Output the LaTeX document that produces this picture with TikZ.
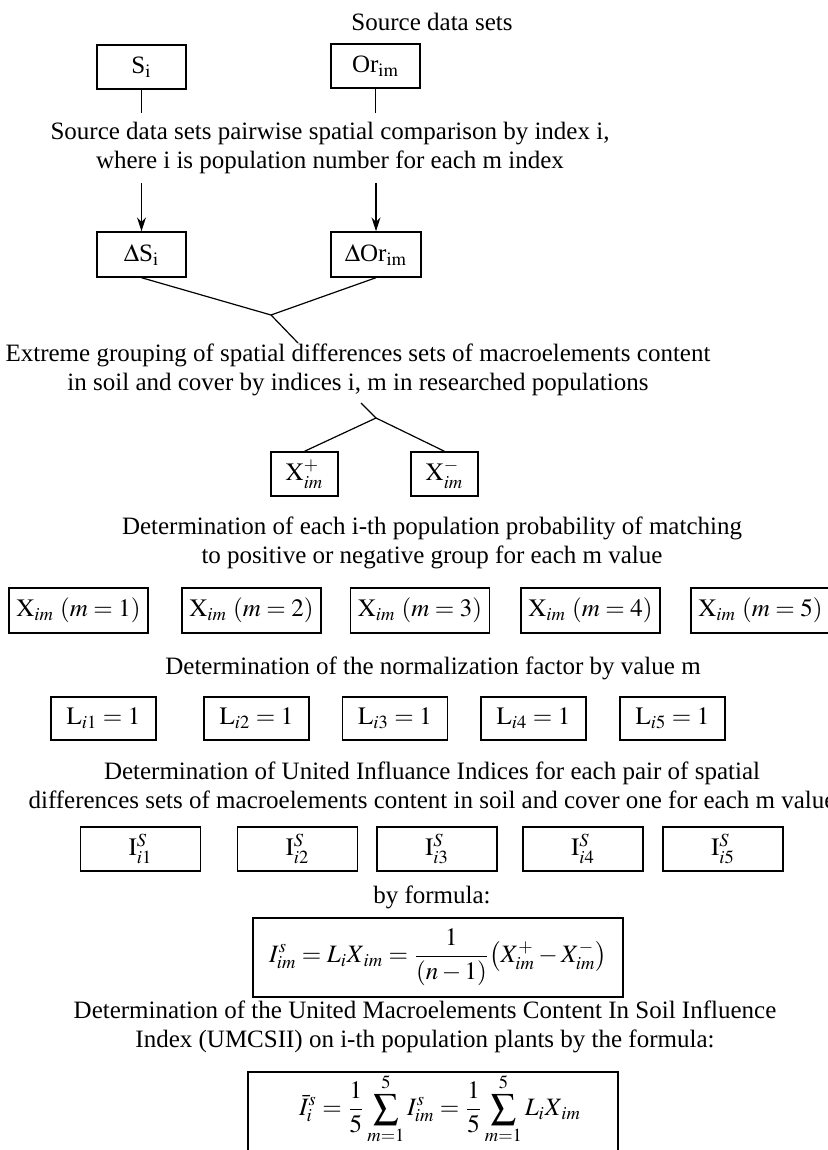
\documentclass[tikz,border=0pt]{standalone}
\usepackage{amsmath,amssymb}
\usepackage{mathptmx}
\usepackage{fontspec}
\setmainfont{Liberation Serif}
\usepackage{tikz}
\usetikzlibrary{arrows.meta}

\tikzset{
  box/.style={draw=black, line width=0.7pt, inner sep=0pt, align=center},
  txt/.style={inner sep=0pt, align=center},
  link/.style={black, line width=0.6pt},
  down/.style={link, -{Stealth[length=7pt,width=4.5pt]}},
}

\begin{document}
\begin{tikzpicture}[x=0.5pt,y=-0.5pt,font=\fontsize{12.5}{14.5}\selectfont]
    \useasboundingbox (0,0) rectangle (828,1150);

    % source sets
    \node[txt] (src) at (432,22) {Source data sets};
    \node[box, minimum width=44.5pt, minimum height=22pt] (S) at (141.5,67) {S$_\mathrm{i}$};
    \node[box, minimum width=44.5pt, minimum height=22pt] (Or) at (375.5,66) {Or$_\mathrm{im}$};
    \coordinate (sEnd) at (141.5,113);
    \coordinate (oEnd) at (375.5,113);
    \draw [link] (S.south) -- (sEnd);
    \draw [link] (Or.south) -- (oEnd);

    % comparison
    \node[txt] (cmp) at (330,147.5) {Source data sets pairwise spatial comparison by index i,\\
      where i is population number for each m index};
    \coordinate (sTop) at (141.5,183);
    \coordinate (oTop) at (376,183);
    \node[box, minimum width=44.5pt, minimum height=22.5pt] (dS) at (141.5,254.5) {$\Delta$S$_\mathrm{i}$};
    \node[box, minimum width=45pt, minimum height=22.5pt] (dOr) at (376,254.5) {$\Delta$Or$_\mathrm{im}$};
    \draw [down] (sTop) -- (dS.north);
    \draw [down] (oTop) -- (dOr.north);

    % join
    \coordinate (j1) at (271,315);
    \coordinate (j1e) at (298,343);
    \draw [link] (dS.south) -- (j1) -- (dOr.south);
    \draw [link] (j1) -- (j1e);

    % extreme grouping
    \node[txt] (grp) at (358,370) {Extreme grouping of spatial differences sets of macroelements content\\
      in soil and cover by indices i, m in researched populations};
    \coordinate (j2s) at (361,403);
    \coordinate (j2) at (376,418);
    \node[box, minimum width=33.5pt, minimum height=22pt] (Xp) at (304.5,474) {$\mathrm{X}^{+}_{im}$};
    \node[box, minimum width=33.5pt, minimum height=22pt] (Xm) at (444.5,474) {$\mathrm{X}^{-}_{im}$};
    \draw [link] (j2s) -- (j2);
    \draw [link] (Xp.north) -- (j2) -- (Xm.north);

    % probability
    \node[txt] (prob) at (432,543) {Determination of each i-th population probability of matching\\
      to positive or negative group for each m value};
    \node[box, minimum width=69.5pt, minimum height=22.5pt] (X1) at (78.5,610.5) {$\mathrm{X}_{im}\ (m = 1)$};
    \node[box, minimum width=69.5pt, minimum height=22.5pt] (X2) at (251.5,610.5) {$\mathrm{X}_{im}\ (m = 2)$};
    \node[box, minimum width=69.5pt, minimum height=22.5pt] (X3) at (420,610.5) {$\mathrm{X}_{im}\ (m = 3)$};
    \node[box, minimum width=69.5pt, minimum height=22.5pt] (X4) at (590.5,610.5) {$\mathrm{X}_{im}\ (m = 4)$};
    \node[box, minimum width=69.5pt, minimum height=22.5pt] (X5) at (760.5,610.5) {$\mathrm{X}_{im}\ (m = 5)$};

    % normalization
    \node[txt] (norm) at (433,668) {Determination of the normalization factor by value m};
    \node[box, minimum width=52.5pt, minimum height=21.5pt] (L1) at (103.5,718.5) {$\mathrm{L}_{i1} = 1$};
    \node[box, minimum width=52.5pt, minimum height=21.5pt] (L2) at (256.5,718.5) {$\mathrm{L}_{i2} = 1$};
    \node[box, minimum width=52.5pt, minimum height=21.5pt] (L3) at (395,718.5) {$\mathrm{L}_{i3} = 1$};
    \node[box, minimum width=52.5pt, minimum height=21.5pt] (L4) at (533.5,718.5) {$\mathrm{L}_{i4} = 1$};
    \node[box, minimum width=52.5pt, minimum height=21.5pt] (L5) at (672.5,718.5) {$\mathrm{L}_{i5} = 1$};

    % united indices
    \node[txt] (uni) at (432,785.5) {Determination of United Influance Indices for each pair of spatial\\
      differences sets of macroelements content in soil and cover one for each m value};
    \node[box, minimum width=60pt, minimum height=22pt] (I1) at (140.5,849) {$\mathrm{I}^{S}_{i1}$};
    \node[box, minimum width=60pt, minimum height=22pt] (I2) at (297.5,849) {$\mathrm{I}^{S}_{i2}$};
    \node[box, minimum width=60pt, minimum height=22pt] (I3) at (437,849) {$\mathrm{I}^{S}_{i3}$};
    \node[box, minimum width=60pt, minimum height=22pt] (I4) at (583,849) {$\mathrm{I}^{S}_{i4}$};
    \node[box, minimum width=60pt, minimum height=22pt] (I5) at (723,849) {$\mathrm{I}^{S}_{i5}$};

    % formulas
    \node[txt] (byf) at (432,897) {by formula:};
    \node[box, minimum width=185pt, minimum height=39.5pt] (F1) at (438,957.5)
      {$\displaystyle I^{s}_{im} = L_{i}X_{\,im} = \frac{1}{(n-1)}\bigl(X^{+}_{im} - X^{-}_{im}\bigr)$};
    \node[txt] (ums) at (425,1026.5) {Determination of the United Macroelements Content In Soil Influence\\
      Index (UMCSII) on i-th population plants by the formula:};
    \node[box, minimum width=185pt, minimum height=45pt] (F2) at (433,1117) {};
    \node[txt] (F2f) at (440,1109)
      {$\displaystyle \bar{I}^{s}_{i} = \frac{1}{5}\sum_{m=1}^{5} I^{s}_{im} = \frac{1}{5}\sum_{m=1}^{5} L_{i}X_{\,im}$};
\end{tikzpicture}
\end{document}
